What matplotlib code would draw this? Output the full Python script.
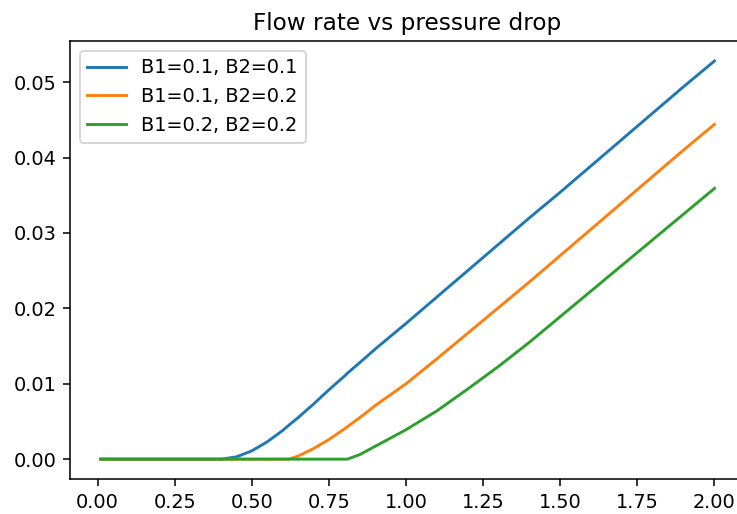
import matplotlib
matplotlib.use("Agg")
import matplotlib.pyplot as plt

# pressure drop values (x) and flow rates
pressure_drop = [0.01, 0.1, 0.2, 0.3, 0.4, 0.45, 0.5, 0.55, 0.6, 0.62, 0.65, 0.7,
                 0.75, 0.8, 0.81, 0.85, 0.9, 1.0, 1.1, 1.2, 1.3, 1.4, 1.5, 1.6,
                 1.7, 1.8, 1.9, 2.0]

flow_b1_01_b2_01 = [0, 0, 0, 0, 0, 0.0003, 0.0011, 0.0023, 0.0038, 0.0045, 0.0055,
                    0.0073, 0.0092, 0.0110, 0.0114, 0.0128, 0.0146, 0.0180, 0.0215,
                    0.0250, 0.0285, 0.0320, 0.0354, 0.0389, 0.0424, 0.0459, 0.0494,
                    0.0528]
flow_b1_01_b2_02 = [0, 0, 0, 0, 0, 0, 0, 0, 0, 0, 0.0004, 0.0014, 0.0026, 0.0040,
                    0.0043, 0.0055, 0.0071, 0.0100, 0.0133, 0.0167, 0.0201, 0.0235,
                    0.0270, 0.0305, 0.0340, 0.0375, 0.0410, 0.0444]
flow_b1_02_b2_02 = [0, 0, 0, 0, 0, 0, 0, 0, 0, 0, 0, 0, 0, 0, 0, 0.0006, 0.0017,
                    0.0039, 0.0064, 0.0093, 0.0123, 0.0155, 0.0189, 0.0223, 0.0257,
                    0.0291, 0.0325, 0.0359]

labels = ["B1=0.1, B2=0.1", "B1=0.1, B2=0.2", "B1=0.2, B2=0.2"]

dpi = 139
fig = plt.figure(figsize=(737 / dpi, 514 / dpi), dpi=dpi)
ax = fig.add_axes([0.095, 0.068, 0.916, 0.852])

ax.plot(pressure_drop, flow_b1_01_b2_01, label=labels[0])
ax.plot(pressure_drop, flow_b1_01_b2_02, label=labels[1])
ax.plot(pressure_drop, flow_b1_02_b2_02, label=labels[2])

ax.set_title("Flow rate vs pressure drop")
ax.legend(loc="upper left")

fig.savefig("out.png", dpi=dpi)
